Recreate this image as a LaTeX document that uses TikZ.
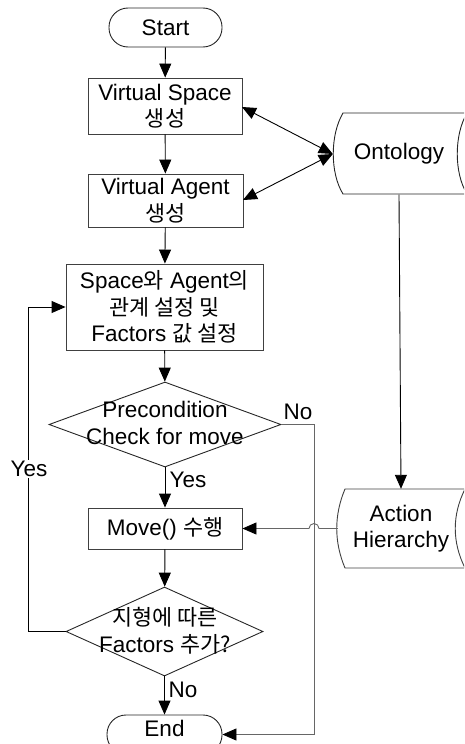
\documentclass[tikz,border=0pt]{standalone}
\usepackage{fontspec}
\setmainfont{Liberation Sans}
\newfontfamily\kr{Noto Sans CJK KR}[Scale=0.97]
\usetikzlibrary{arrows.meta,shapes.geometric}
\begin{document}
\begin{tikzpicture}[x=1pt,y=-1pt,
  every node/.style={font=\fontsize{22.5}{26.5}\selectfont, inner sep=0pt, align=center},
  boxnode/.style={draw=black!75, line width=0.9pt, rectangle},
  termnode/.style={draw=black!85, line width=0.9pt, rectangle, rounded corners=19pt},
  decnode/.style={draw=black!85, line width=0.9pt, diamond},
  conn/.style={line width=0.9pt, -{Triangle[length=14pt,width=12pt]}},
  bconn/.style={line width=0.9pt, {Triangle[length=14pt,width=12pt]}-{Triangle[length=14pt,width=12pt]}},
  gconn/.style={line width=0.9pt, draw=black!60, -{Triangle[length=14pt,width=12pt,color=black]}},
  lbl/.style={fill=white, inner sep=1pt}]
\useasboundingbox (0,0) rectangle (464,744);
\begin{scope}
\clip (0,0) rectangle (464,744);
% nodes
\node[termnode, minimum width=113pt, minimum height=39pt] (start) at (165.5,27.5) {Start};
\node[boxnode, minimum width=154pt, minimum height=56pt] (vs) at (165,106) {Virtual Space\\{\kr 생성}};
\node[boxnode, minimum width=155pt, minimum height=53pt] (va) at (165.5,200.5) {Virtual Agent\\{\kr 생성}};
\node[boxnode, minimum width=197pt, minimum height=86pt] (rel) at (164.5,307) {Space{\kr 와} Agent{\kr 의}\\{\kr 관계 설정 및}\\Factors {\kr 값 설정}};
\node[decnode, minimum width=232pt, minimum height=85pt] (d1) at (165,424.5) {};
\node at (165,423) {Precondition\\Check for move};
\node[boxnode, minimum width=154pt, minimum height=41pt] (mv) at (165,528.5) {Move() {\kr 수행}};
\node[decnode, minimum width=197pt, minimum height=89pt] (d2) at (164.5,631.5) {};
\node at (165,630.5) {{\kr 지형에 따른}\\Factors {\kr 추가?}};
\node[termnode, minimum width=115pt, minimum height=39pt] (end) at (164.5,734.5) {};
\node at (164.5,728) {End};
% stored data shapes
\node[minimum width=132pt, minimum height=81pt] (onto) at (399,154) {Ontology};
\draw[draw=black!85, line width=0.9pt] (470,113) -- (343,113) .. controls (330,135) and (330,173) .. (343,194) -- (470,194);
\draw[draw=black!85, line width=0.9pt] (467,113) .. controls (454,135) and (454,173) .. (467,194);
\node[minimum width=126pt, minimum height=79pt] (act) at (401,528.5) {Action\\Hierarchy};
\draw[draw=black!75, line width=0.9pt] (470,489) -- (345,489) .. controls (334,515) and (334,542) .. (345,568) -- (470,568);
\draw[draw=black!75, line width=0.9pt] (465,489) .. controls (452,515) and (452,542) .. (465,568);
% connectors
\draw[conn] (start) -- (vs);
\draw[conn] (vs) -- (va);
\draw[conn] (va) -- (rel);
\draw[conn] (rel) -- (d1);
\draw[conn] (d1) -- (mv);
\draw[conn] (mv) -- (d2);
\draw[conn] (d2) -- (end);
\coordinate (vsr) at (242,107);
\coordinate (var) at (243,200);
\draw[bconn] (vsr) -- (onto.west);
\draw[bconn] (var) -- (onto.west);
\draw[conn] (onto.south) -- (act.north);
\coordinate (yx) at (28,631.5);
\draw[conn] (d2.west) -- (yx) |- (rel.west);
\coordinate (nx) at (314,424.5);
\draw[gconn] (d1.east) -- (nx) |- (end.east);
\draw[gconn] (act.west) -- (319,528.5) arc[start angle=0,end angle=180,radius=5pt] -- (mv.east);
% labels
\node[lbl] at (29,469) {Yes};
\node at (298,412) {No};
\node at (188,480) {Yes};
\node at (183,690) {No};
\end{scope}
\end{tikzpicture}
\end{document}
